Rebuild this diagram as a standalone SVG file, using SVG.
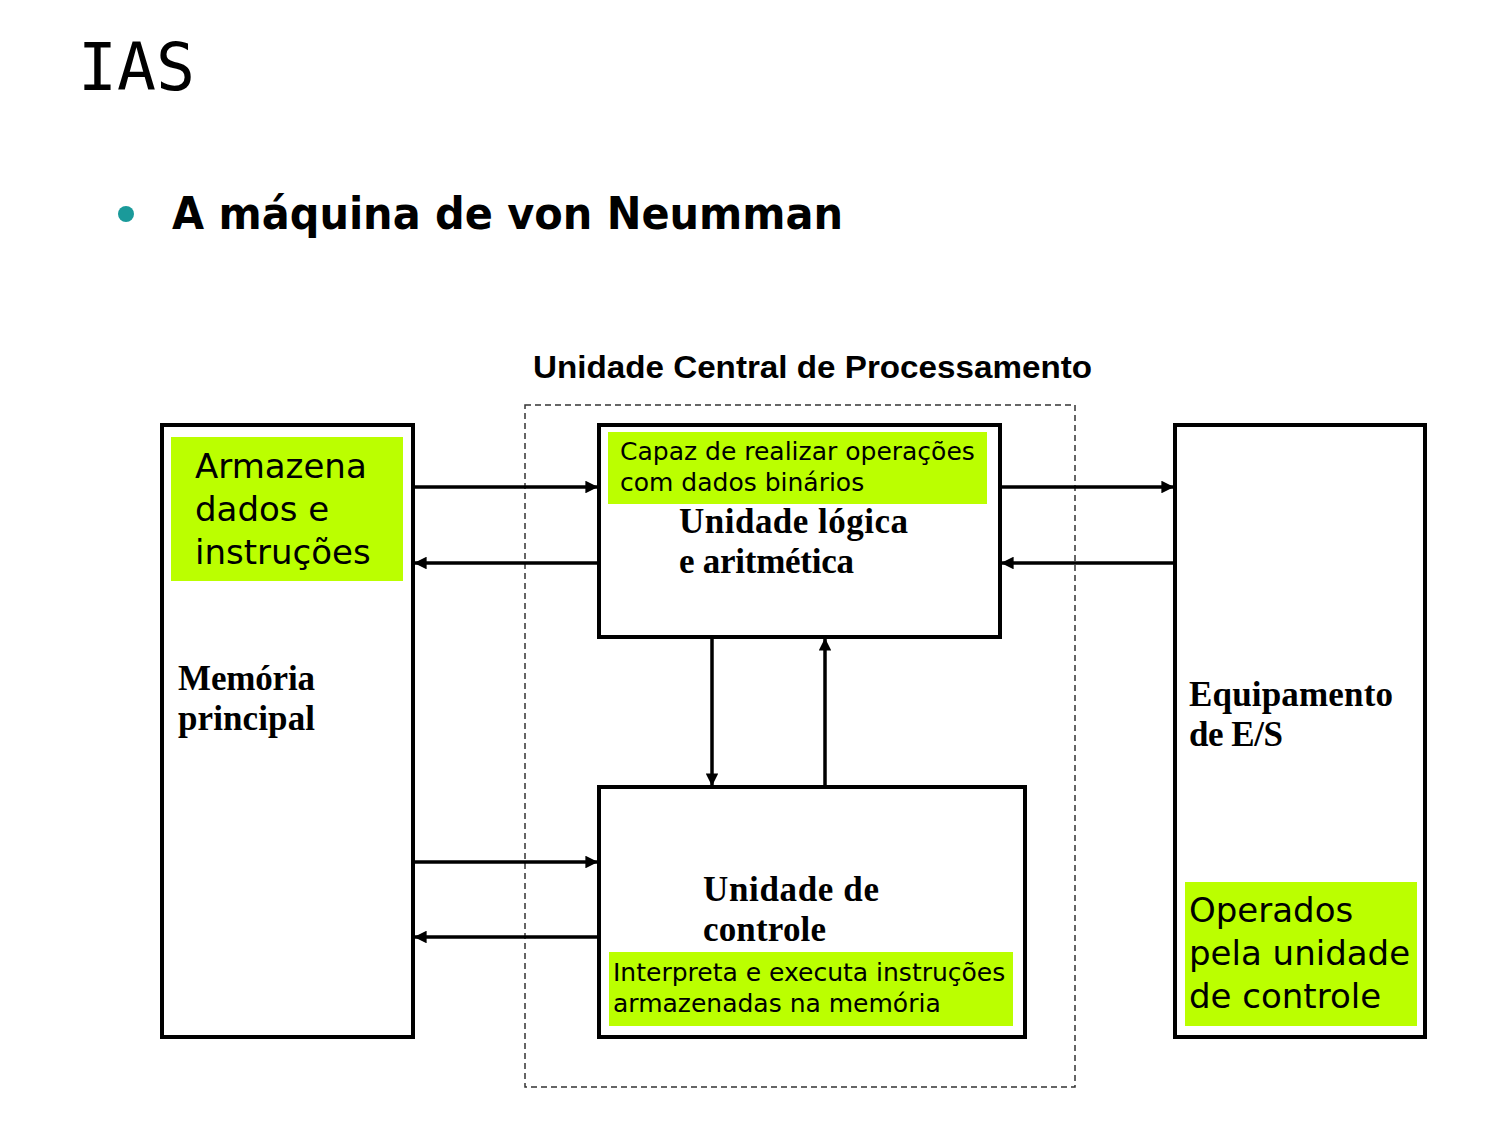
<svg xmlns="http://www.w3.org/2000/svg" width="1500" height="1125" viewBox="0 0 1500 1125">
<defs>
<style>
.box{fill:#fff;stroke:#000;stroke-width:4}
.hl{fill:#bbff00}
.gt{font-family:"DejaVu Sans",Verdana,sans-serif;fill:#000}
.st{font-family:"Liberation Serif","Times New Roman",serif;font-weight:bold;font-size:35px;fill:#000}
.ln{stroke:#000;stroke-width:3.5;fill:none}
</style>
<marker id="ah" viewBox="0 0 10 10" refX="10" refY="5" markerWidth="4" markerHeight="3.6" orient="auto" markerUnits="strokeWidth">
<path d="M0,0 L10,5 L0,10 z" fill="#000"/>
</marker>
</defs>
<rect width="1500" height="1125" fill="#fff"/>
<text x="78" y="90" font-family="DejaVu Sans Mono,monospace" font-size="65" textLength="117" lengthAdjust="spacingAndGlyphs">IAS</text>
<circle cx="126" cy="214" r="8" fill="#1a9a9a"/>
<text x="172" y="229" font-family="DejaVu Sans,Verdana,sans-serif" font-weight="bold" font-size="44" textLength="671" lengthAdjust="spacingAndGlyphs">A máquina de von Neumman</text>
<text x="533" y="378" font-family="Liberation Sans,Arial,sans-serif" font-weight="bold" font-size="32" textLength="559" lengthAdjust="spacingAndGlyphs">Unidade Central de Processamento</text>
<rect id="cpu" x="525" y="405" width="550" height="682" fill="none" stroke="#333" stroke-width="1.5" stroke-dasharray="6,4"/>
<g id="memoria">
<rect class="box" x="162" y="425" width="251" height="612"/>
<rect class="hl" x="171" y="437" width="232" height="144"/>
<text class="gt" font-size="34"><tspan x="195" y="478">Armazena</tspan><tspan x="195" y="521">dados e</tspan><tspan x="195" y="564">instruções</tspan></text>
<text class="st"><tspan x="178" y="690" textLength="137">Memória</tspan><tspan x="178" y="730" textLength="137">principal</tspan></text>
</g>
<g id="ula">
<rect class="box" x="599" y="425" width="401" height="212"/>
<rect class="hl" x="608" y="432" width="379" height="72"/>
<text class="gt" font-size="25"><tspan x="620" y="460">Capaz de realizar operações</tspan><tspan x="620" y="491">com dados binários</tspan></text>
<text class="st"><tspan x="679" y="533" textLength="229">Unidade lógica</tspan><tspan x="679" y="573" textLength="175">e aritmética</tspan></text>
</g>
<g id="controle">
<rect class="box" x="599" y="787" width="426" height="250"/>
<rect class="hl" x="609" y="952" width="404" height="74"/>
<text class="st"><tspan x="703" y="901" textLength="176">Unidade de</tspan><tspan x="703" y="941" textLength="123">controle</tspan></text>
<text class="gt" font-size="25"><tspan x="613" y="981">Interpreta e executa instruções</tspan><tspan x="613" y="1012">armazenadas na memória</tspan></text>
</g>
<g id="es">
<rect class="box" x="1175" y="425" width="250" height="612"/>
<rect class="hl" x="1185" y="882" width="232" height="144"/>
<text class="st"><tspan x="1189" y="706" textLength="204">Equipamento</tspan><tspan x="1189" y="746" textLength="94">de E/S</tspan></text>
<text class="gt" font-size="34"><tspan x="1189" y="922">Operados</tspan><tspan x="1189" y="965">pela unidade</tspan><tspan x="1189" y="1008">de controle</tspan></text>
</g>
<g id="connectors" class="ln">
<line x1="415" y1="487" x2="598" y2="487" marker-end="url(#ah)"/>
<line x1="597" y1="563" x2="414" y2="563" marker-end="url(#ah)"/>
<line x1="1002" y1="487" x2="1174" y2="487" marker-end="url(#ah)"/>
<line x1="1173" y1="563" x2="1001" y2="563" marker-end="url(#ah)"/>
<line x1="712" y1="639" x2="712" y2="786" marker-end="url(#ah)"/>
<line x1="825" y1="785" x2="825" y2="638" marker-end="url(#ah)"/>
<line x1="415" y1="862" x2="598" y2="862" marker-end="url(#ah)"/>
<line x1="597" y1="937" x2="414" y2="937" marker-end="url(#ah)"/>
</g>
</svg>
